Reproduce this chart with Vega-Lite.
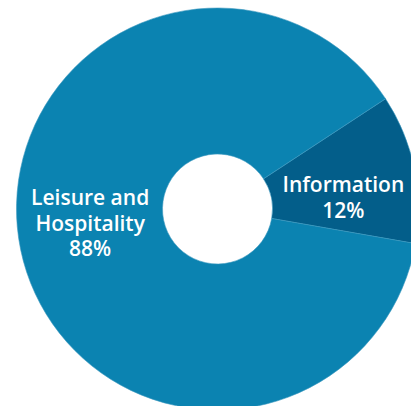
{
  "$schema": "https://vega.github.io/schema/vega-lite/v6.json",
  "width": 387,
  "height": 394,
  "autosize": "none",
  "padding": {"left": 24, "top": 12, "right": 0, "bottom": 0},
  "background": "white",
  "config": {"view": {"stroke": null}},
  "data": {
    "values": [
      {"sector": "Information", "share": 12, "label": ["Information", "12%"]},
      {"sector": "Leisure and Hospitality", "share": 88, "label": ["Leisure and", "Hospitality", "88%"]}
    ]
  },
  "layer": [
    {
      "mark": {"type": "arc", "outerRadius": 201, "innerRadius": 55, "stroke": "#3d98c0", "strokeWidth": 0.6},
      "encoding": {
        "theta": {"field": "share", "type": "quantitative", "stack": true, "scale": {"range": [0.99, 7.2732]}},
        "color": {"field": "sector", "type": "nominal", "scale": {"domain": ["Information", "Leisure and Hospitality"], "range": ["#035e8a", "#0b83b1"]}, "legend": null}
      }
    },
    {
      "mark": {"type": "text", "radius": 128, "dx": -2, "dy": -35.5, "align": "center", "baseline": "middle", "font": "Open Sans", "fontWeight": 600, "fontSize": 21, "lineHeight": 25.5, "color": "white"},
      "encoding": {
        "theta": {"field": "share", "type": "quantitative", "stack": true},
        "detail": {"field": "sector", "type": "nominal"},
        "text": {"condition": {"test": "datum.sector === 'Leisure and Hospitality'", "field": "label"}, "value": ""}
      }
    },
    {
      "mark": {"type": "text", "radius": 126, "dx": 2.5, "dy": 3, "align": "center", "baseline": "middle", "font": "Open Sans", "fontWeight": 600, "fontSize": 21, "lineHeight": 25.5, "color": "white"},
      "encoding": {
        "theta": {"field": "share", "type": "quantitative", "stack": true},
        "detail": {"field": "sector", "type": "nominal"},
        "text": {"condition": {"test": "datum.sector === 'Information'", "field": "label"}, "value": ""}
      }
    }
  ]
}
